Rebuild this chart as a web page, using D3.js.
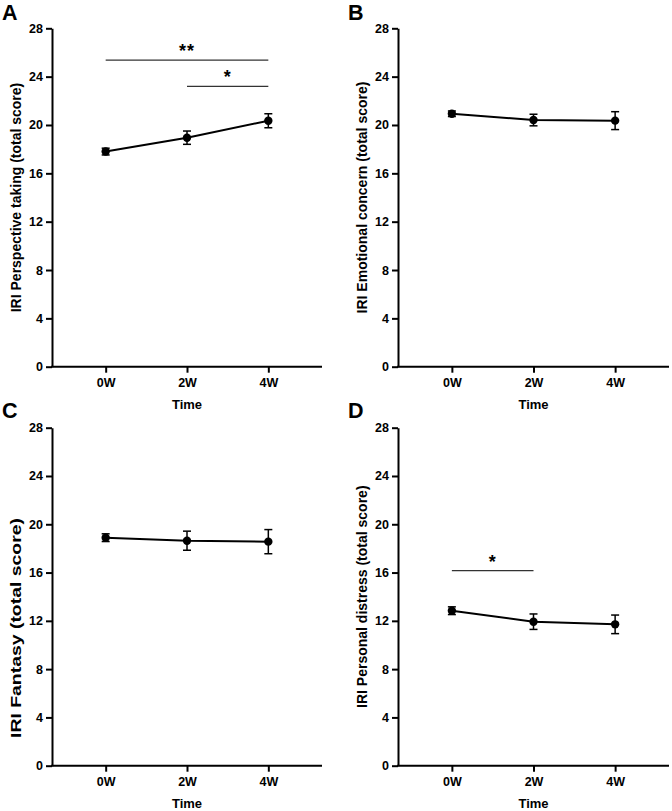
<!DOCTYPE html>
<html>
<head>
<meta charset="utf-8">
<script src="https://cdn.jsdelivr.net/npm/d3@7"></script>
<style>
  html, body { margin: 0; padding: 0; background: #fff; }
  svg text { font-family: "Liberation Sans", Arial, Helvetica, sans-serif; font-weight: bold; fill: #000; }
</style>
</head>
<body>
<svg id="chart" width="672" height="811"></svg>
<script>
// ---- Data ----
const timepoints = ["0W", "2W", "4W"];
const yTickValues = [0, 4, 8, 12, 16, 20, 24, 28];

const perspectiveMean = [17.8, 18.95, 20.35];
const perspectiveSEM  = [0.28, 0.55, 0.58];

const emotionalMean = [20.93, 20.41, 20.36];
const emotionalSEM  = [0.23, 0.48, 0.74];

const fantasyMean = [18.89, 18.64, 18.56];
const fantasySEM  = [0.32, 0.79, 1.0];

const distressMean = [12.84, 11.93, 11.71];
const distressSEM  = [0.32, 0.64, 0.77];

const perspectiveSig = [
  { from: "0W", to: "4W", y: 25.37, label: "**" },
  { from: "2W", to: "4W", y: 23.2, label: "*" }
];
const distressSig = [
  { from: "0W", to: "2W", y: 16.16, label: "*" }
];

const panels = [
  { letter: "A", title: "IRI Perspective taking (total score)", mean: perspectiveMean, sem: perspectiveSEM, sig: perspectiveSig },
  { letter: "B", title: "IRI Emotional concern (total score)", mean: emotionalMean, sem: emotionalSEM, sig: [] },
  { letter: "C", title: "IRI Fantasy (total score)", mean: fantasyMean, sem: fantasySEM, sig: [] },
  { letter: "D", title: "IRI Personal distress (total score)", mean: distressMean, sem: distressSEM, sig: distressSig }
];

// ---- Layout ----
const svg = d3.select("#chart");
const geom = [
  { left: 52,  right: 322, top: 28.3,  bottom: 366.7, letterX: 2,   letterY: 20,  titleSize: 14, titleCenter: null, titleLen: null },
  { left: 398, right: 669, top: 28.3,  bottom: 366.7, letterX: 348, letterY: 20,  titleSize: 14, titleCenter: null, titleLen: null },
  { left: 52,  right: 322, top: 427.7, bottom: 765.7, letterX: 2,   letterY: 418, titleSize: 15, titleCenter: 628, titleLen: 220 },
  { left: 398, right: 669, top: 427.7, bottom: 765.7, letterX: 348, letterY: 418, titleSize: 14, titleCenter: null, titleLen: null }
];

panels.forEach((p, i) => {
  const g = geom[i];
  const x = d3.scalePoint().domain(timepoints).range([g.left, g.right]).padding(0.66);
  const y = d3.scaleLinear().domain([0, 28]).range([g.bottom, g.top]);
  const root = svg.append("g");

  // panel letter
  root.append("text").attr("x", g.letterX).attr("y", g.letterY)
    .style("font-size", "21.5px").text(p.letter);

  // y axis
  const yAxis = root.append("g").attr("transform", `translate(${g.left},0)`)
    .call(d3.axisLeft(y).tickValues(yTickValues).tickSize(6).tickSizeOuter(0).tickPadding(3));
  yAxis.select(".domain").attr("stroke", "#000").attr("stroke-width", 2);
  yAxis.selectAll(".tick line").attr("stroke", "#000").attr("stroke-width", 2);
  yAxis.selectAll(".tick text").style("font-size", "12.5px").style("font-family", "Liberation Sans, Arial, sans-serif").style("font-weight", "bold");

  // x axis
  const xAxis = root.append("g").attr("transform", `translate(0,${g.bottom})`)
    .call(d3.axisBottom(x).tickSize(6).tickSizeOuter(0).tickPadding(5));
  xAxis.select(".domain").attr("stroke", "#000").attr("stroke-width", 2)
    .attr("d", `M${g.left - 1},0H${g.right}`);
  xAxis.selectAll(".tick line").attr("stroke", "#000").attr("stroke-width", 2);
  xAxis.selectAll(".tick text").style("font-size", "12.5px").style("font-family", "Liberation Sans, Arial, sans-serif").style("font-weight", "bold");

  // axis titles
  const cy = g.titleCenter != null ? g.titleCenter : (g.top + g.bottom) / 2;
  const yt = root.append("text")
    .attr("transform", `translate(${g.left - 36},${cy}) rotate(-90)`)
    .attr("text-anchor", "middle").attr("dy", "0.35em")
    .style("font-size", g.titleSize + "px").text(p.title);
  if (g.titleLen) yt.attr("textLength", g.titleLen).attr("lengthAdjust", "spacingAndGlyphs");
  root.append("text")
    .attr("x", x("2W")).attr("y", g.bottom + 42)
    .attr("text-anchor", "middle")
    .style("font-size", "13px").text("Time");

  // data
  const data = timepoints.map((t, k) => ({ t, m: p.mean[k], s: p.sem[k] }));

  root.append("path").datum(data)
    .attr("fill", "none").attr("stroke", "#000").attr("stroke-width", 2)
    .attr("d", d3.line().x(d => x(d.t)).y(d => y(d.m)));

  const eb = root.append("g").selectAll("g").data(data).join("g");
  eb.append("line")
    .attr("x1", d => x(d.t)).attr("x2", d => x(d.t))
    .attr("y1", d => y(d.m - d.s)).attr("y2", d => y(d.m + d.s))
    .attr("stroke", "#000").attr("stroke-width", 1.5);
  eb.append("line")
    .attr("x1", d => x(d.t) - 4).attr("x2", d => x(d.t) + 4)
    .attr("y1", d => y(d.m + d.s)).attr("y2", d => y(d.m + d.s))
    .attr("stroke", "#000").attr("stroke-width", 1.5);
  eb.append("line")
    .attr("x1", d => x(d.t) - 4).attr("x2", d => x(d.t) + 4)
    .attr("y1", d => y(d.m - d.s)).attr("y2", d => y(d.m - d.s))
    .attr("stroke", "#000").attr("stroke-width", 1.5);
  eb.append("circle")
    .attr("cx", d => x(d.t)).attr("cy", d => y(d.m)).attr("r", 4.2)
    .attr("fill", "#000");

  // significance bars
  const sg = root.append("g").selectAll("g").data(p.sig).join("g");
  sg.append("line")
    .attr("x1", d => x(d.from)).attr("x2", d => x(d.to))
    .attr("y1", d => y(d.y)).attr("y2", d => y(d.y))
    .attr("stroke", "#333").attr("stroke-width", 1.2);
  sg.append("text")
    .attr("x", d => (x(d.from) + x(d.to)) / 2)
    .attr("y", d => y(d.y) - 3)
    .attr("text-anchor", "middle")
    .style("font-size", "18px").style("letter-spacing", "1px")
    .text(d => d.label);
});
</script>
</body>
</html>
